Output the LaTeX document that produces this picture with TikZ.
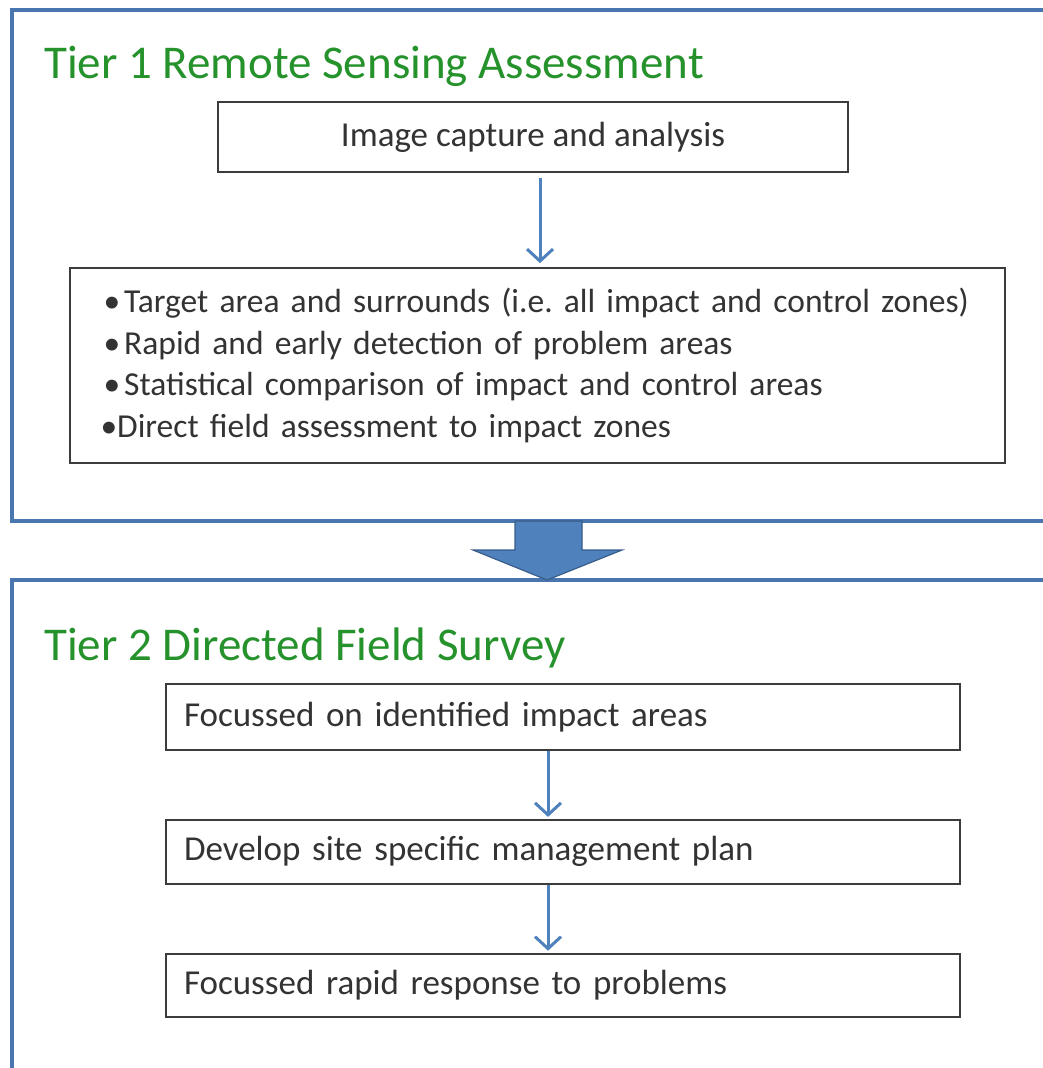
\documentclass[tikz,border=0pt]{standalone}
\usepackage{fontspec}
\setmainfont{Carlito}
\usetikzlibrary{positioning,arrows.meta}
\definecolor{tierblue}{RGB}{74,118,176}
\definecolor{arrowblue}{RGB}{79,129,189}
\definecolor{arrowedge}{RGB}{56,93,138}
\definecolor{titlegreen}{RGB}{38,146,44}
\definecolor{boxgrey}{RGB}{60,60,60}
\frenchspacing

\begin{document}
\begin{tikzpicture}[x=1pt, y=-1pt,
    tier/.style={draw=tierblue, line width=3.5pt},
    title/.style={anchor=base west, text=titlegreen, font=\fontsize{47}{52}\selectfont, inner sep=0pt},
    box/.style={draw=boxgrey, line width=1.8pt, text=black!80, font=\fontsize{35}{41.5}\selectfont},
    flow/.style={draw=arrowblue, line width=3pt, -{Straight Barb[length=12pt, width=26pt]}}]
    \useasboundingbox (0,0) rectangle (1043,1068);
    \fill[white] (0,0) rectangle (1043,1068);
    % the two tiers
    \draw[tier] (12,10) rectangle (1070,521);
    \draw[tier] (12,580) rectangle (1070,1090);
    \node[title] (t1) at (44,78) {Tier 1 Remote Sensing Assessment};
    \node[title] (t2) at (44,660) {Tier 2 Directed Field Survey};
    % tier 1
    \node[box, minimum width=630, minimum height=70] (capture) at (533,137) {Image capture and analysis};
    \node[box, minimum height=195, text width=900, inner xsep=17.5, align=left, font=\fontsize{33.5}{41.5}\selectfont] (bullets) at (537.5,365.5)
        {\hspace{16pt}\textbullet\hspace{0.12em}Target area and surrounds (i.e. all impact and control zones)\\
         \hspace{16pt}\textbullet\hspace{0.12em}Rapid and early detection of problem areas\\
         \hspace{16pt}\textbullet\hspace{0.12em}Statistical comparison of impact and control areas\\
         \hspace{13pt}\textbullet Direct field assessment to impact zones};
    \draw[flow, shorten <=5pt, shorten >=4pt] (capture.south -| 540,0) -- (bullets.north -| 540,0);
    % tier 1 to tier 2
    \filldraw[fill=arrowblue, draw=arrowedge, line width=1.2pt]
        (515,521) -- (582,521) -- (582,550) -- (622,550) -- (547,580) -- (473,550) -- (515,550) -- cycle;
    % tier 2
    \node[box, minimum height=66, text width=758, inner xsep=18, align=left] (focus) at (563,717) {Focussed on identified impact areas};
    \node[box, minimum height=64, text width=758, inner xsep=18, align=left, below=68pt of focus] (plan) {Develop site specific management plan};
    \node[box, minimum height=63, text width=758, inner xsep=18, align=left, below=68pt of plan] (respond) {Focussed rapid response to problems};
    \draw[flow, shorten >=2pt] (focus.south -| 548,0) -- (plan.north -| 548,0);
    \draw[flow, shorten >=2pt] (plan.south -| 548,0) -- (respond.north -| 548,0);
\end{tikzpicture}
\end{document}
